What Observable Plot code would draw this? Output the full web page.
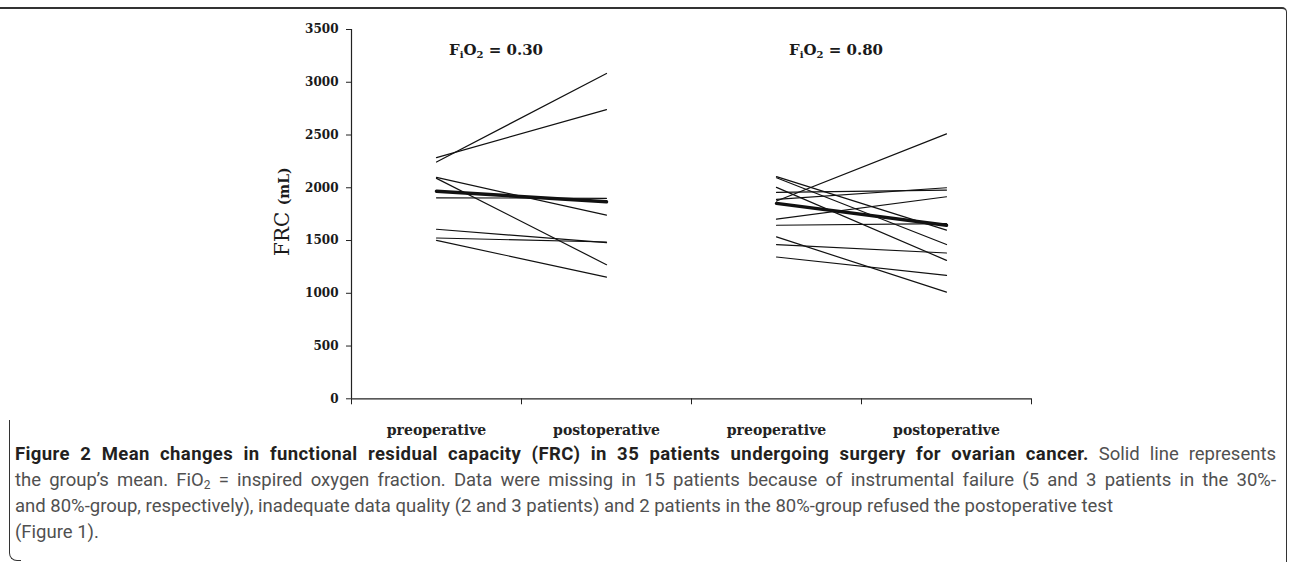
<!DOCTYPE html>
<html>
<head>
<meta charset="utf-8">
<script src="https://cdn.jsdelivr.net/npm/d3@7"></script>
<script src="https://cdn.jsdelivr.net/npm/@observablehq/plot@0.6"></script>
<style>
  html, body { margin: 0; padding: 0; background: #fff; }
  #wrap { position: relative; width: 1290px; height: 562px; overflow: hidden; background: #fff; }
  #chart { position: absolute; left: 0; top: 0; }
  #caption {
    position: absolute; left: 15px; top: 441px; width: 1261px;
    transform-origin: 0 0;
    font-family: Roboto, "Open Sans", sans-serif;
    font-size: 18.5px; line-height: 26px; color: #505050;
  }
  #caption b { color: #231f20; font-weight: bold; letter-spacing: 0.4px; }
  #caption .l { white-space: nowrap; }
  #caption .j { text-align: justify; text-align-last: justify; white-space: normal; }
  #caption sub { font-size: 0.65em; line-height: 0; vertical-align: -0.25em; }
  .frameTop { position: absolute; left: -20px; top: 7px; width: 1307px; height: 600px;
    border-top: 2px solid #333; border-right: 1.5px solid #333; border-top-right-radius: 5px; box-sizing: border-box; }
  .frameLeft { position: absolute; left: 9px; top: 420px; width: 12px; height: 141px;
    border-left: 1.5px solid #333; border-bottom: 1.5px solid #333; border-bottom-left-radius: 8px; box-sizing: border-box; }
</style>
</head>
<body>
<div id="wrap">
  <div id="chart"></div>
  <div id="caption">
    <div class="l j"><b>Figure 2 Mean changes in functional residual capacity (FRC) in 35 patients undergoing surgery for ovarian cancer.</b> Solid line represents</div>
    <div class="l j">the group’s mean. FiO<sub>2</sub> = inspired oxygen fraction. Data were missing in 15 patients because of instrumental failure (5 and 3 patients in the 30%-</div>
    <div class="l" id="line3">and 80%-group, respectively), inadequate data quality (2 and 3 patients) and 2 patients in the 80%-group refused the postoperative test</div>
    <div class="l">(Figure 1).</div>
  </div>
  <div class="frameTop"></div>
  <div class="frameLeft"></div>
</div>
<script>
// ---- data ----
const categories = ["preoperative", "postoperative", "preoperative", "postoperative"];
const groupLabels = ["0.30", "0.80"];
const yTicks = [0, 500, 1000, 1500, 2000, 2500, 3000, 3500];

// FiO2 = 0.30 group (mL)
const g30Pre  = [2244, 2286, 2098, 2089, 1905, 1607, 1524, 1502];
const g30Post = [3083, 2741, 1740, 1271, 1900, 1480, 1486, 1153];
const g30Mean = [1968, 1867];

// FiO2 = 0.80 group (mL)
const g80Pre  = [2105, 2095, 2004, 1956, 1890, 1874, 1702, 1645, 1534, 1462, 1344];
const g80Post = [1598, 1462, 1312, 1978, 2000, 2511, 1915, 1661, 1011, 1382, 1170];
const g80Mean = [1852, 1645];

// ---- build tables ----
const patients = [];
[[g30Pre, g30Post, 0], [g80Pre, g80Post, 1]].forEach(([pre, post, g]) => {
  pre.forEach((v, i) => {
    patients.push({id: g + "-" + i, x: 2 * g + 0.5, y: v});
    patients.push({id: g + "-" + i, x: 2 * g + 1.5, y: post[i]});
  });
});
const means = [];
[g30Mean, g80Mean].forEach((m, g) => {
  means.push({g, x: 2 * g + 0.5, y: m[0]});
  means.push({g, x: 2 * g + 1.5, y: m[1]});
});
const boundaries = d3.range(categories.length + 1);
const centers = categories.map((c, i) => i + 0.5);

const serif = "DejaVu Serif, Liberation Serif, serif";

const plot = Plot.plot({
  width: 1290,
  height: 440,
  marginLeft: 351,
  marginRight: 259,
  marginTop: 29,
  marginBottom: 41.7,
  x: {domain: [0, categories.length], axis: null},
  y: {domain: [0, 3500], axis: null},
  style: {fontFamily: serif, color: "#1a1a1a", background: "transparent", overflow: "visible"},
  marks: [
    Plot.axisY({ticks: yTicks, tickSize: 5, tickPadding: 8, tickFormat: (d) => String(d), fontSize: 12, fontWeight: "bold", label: null, stroke: "#222"}),
    Plot.axisX({ticks: boundaries, tickSize: 6, tickFormat: () => "", label: null, stroke: "#222"}),
    Plot.axisX({ticks: centers, tickSize: 0, tickPadding: 26, tickFormat: (d) => categories[Math.floor(d)], fontSize: 14, fontWeight: "bold", label: null, fill: "#222"}),
    Plot.ruleX([0], {stroke: "#222", strokeWidth: 1.2}),
    Plot.ruleY([0], {stroke: "#222", strokeWidth: 1.2}),
    Plot.line(patients, {x: "x", y: "y", z: "id", stroke: "#111", strokeWidth: 1.2}),
    Plot.line(means, {x: "x", y: "y", z: "g", stroke: "#111", strokeWidth: 3.5})
  ]
});
document.getElementById("chart").appendChild(plot);

// titles and y label as real text with subscripts
const svg = d3.select(plot);
const xs = plot.scale("x"), ys = plot.scale("y");
groupLabels.forEach((lab, g) => {
  const t = svg.append("text")
    .attr("x", xs.apply(2 * g + 1) - 25)
    .attr("y", 55)
    .attr("text-anchor", "middle")
    .attr("font-family", serif)
    .attr("font-weight", "bold")
    .attr("font-size", 15)
    .attr("fill", "#1a1a1a");
  t.append("tspan").text("F");
  t.append("tspan").attr("font-size", 10).attr("dy", 3).text("i");
  t.append("tspan").attr("dy", -3).text("O");
  t.append("tspan").attr("font-size", 10).attr("dy", 3).text("2");
  t.append("tspan").attr("dy", -3).text(" = " + lab);
});
const yMid = (ys.range[0] + ys.range[1]) / 2;
const yl = svg.append("text")
  .attr("transform", `translate(289,${yMid - 2}) rotate(-90)`)
  .attr("text-anchor", "middle")
  .attr("font-family", serif)
  .attr("fill", "#1a1a1a");
yl.append("tspan").attr("font-size", 20).text("FRC ");
yl.append("tspan").attr("font-size", 14).attr("font-weight", "bold").text("(mL)");

// condense the caption horizontally so the third (unjustified) line spans its reference width
const l3 = document.getElementById("line3");
const cap = document.getElementById("caption");
const r = document.createRange();
r.selectNodeContents(l3);
const w = r.getBoundingClientRect().width;
const s = Math.min(1, 1128 / w);
cap.style.width = (1261 / s) + "px";
cap.style.transform = `scaleX(${s})`;
</script>
</body>
</html>
